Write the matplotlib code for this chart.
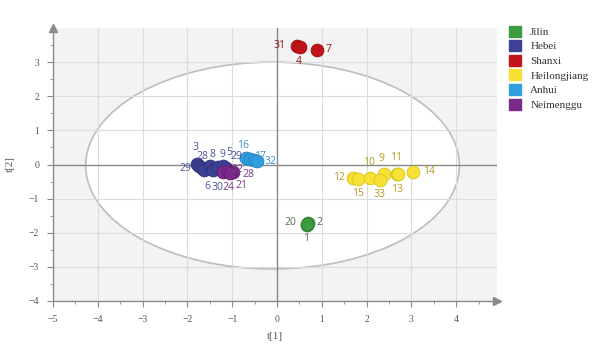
import matplotlib
matplotlib.use("Agg")
import matplotlib.pyplot as plt
from matplotlib.patches import Ellipse, Patch
from matplotlib.ticker import MultipleLocator

groups = ['Jilin', 'Hebei', 'Shanxi', 'Heilongjiang', 'Anhui', 'Neimenggu']
colors = ['#3c9b3e', '#3d4196', '#c0141a', '#f7e135', '#2f9fe0', '#7b2a8c']
edge_colors = ['#2f7d31', '#2e3278', '#9a0f14', '#d9c11c', '#2382c0', '#5f1f6d']
text_colors = ['#5a6f5a', '#4a52a0', '#8b1a1a', '#b59a22', '#3a8ed0', '#7a3a8a']

# scores per province: t[1], t[2], sample label
jilin_t1 = [0.66, 0.70, 0.68]
jilin_t2 = [-1.76, -1.72, -1.74]
jilin_lab = ['1', '2', '20']

hebei_t1 = [-1.79, -1.74, -1.67, -1.63, -1.50, -1.43, -1.32, -1.21, -1.14]
hebei_t2 = [0.01, -0.05, -0.10, -0.15, -0.05, -0.15, -0.08, -0.05, -0.10]
hebei_lab = ['3', '28', '29', '6', '8', '9', '30', '29', '5']

shanxi_t1 = [0.44, 0.51, 0.89]
shanxi_t2 = [3.46, 3.43, 3.35]
shanxi_lab = ['31', '4', '7']

hlj_t1 = [1.70, 1.81, 2.07, 2.38, 2.30, 2.68, 2.70, 3.03]
hlj_t2 = [-0.41, -0.42, -0.39, -0.27, -0.45, -0.27, -0.29, -0.23]
hlj_lab = ['12', '15', '10', '9', '33', '11', '13', '14']

anhui_t1 = [-0.70, -0.60, -0.51, -0.45]
anhui_t2 = [0.19, 0.17, 0.14, 0.11]
anhui_lab = ['16', '', '17', '32']

nmg_t1 = [-1.21, -1.09, -0.98, -1.05]
nmg_t2 = [-0.23, -0.20, -0.22, -0.25]
nmg_lab = ['24', '22', '28', '21']

# label offsets in pixels (layout only)
label_offsets = {
    'Jilin': [(-1, -14), (11, 1), (-17, 1)],
    'Hebei': [(-1, 17), (3, 10), (-17, -1), (3, -17), (3, 12), (9, 15), (0, -20), (14, 10), (3, 15)],
    'Shanxi': [(-17, 1), (-1, -14), (12, 1)],
    'Heilongjiang': [(-14, 1), (0, -15), (-1, 15), (-2, 15), (-1, -15), (-1, 16), (-1, -15), (16, 1)],
    'Anhui': [(-3, 13), (0, 0), (6, 3), (14, -1)],
    'Neimenggu': [(6, -15), (9, 2), (15, -2), (11, -12)],
}

series = {
    'Jilin': (jilin_t1, jilin_t2, jilin_lab),
    'Hebei': (hebei_t1, hebei_t2, hebei_lab),
    'Shanxi': (shanxi_t1, shanxi_t2, shanxi_lab),
    'Heilongjiang': (hlj_t1, hlj_t2, hlj_lab),
    'Anhui': (anhui_t1, anhui_t2, anhui_lab),
    'Neimenggu': (nmg_t1, nmg_t2, nmg_lab),
}

fig = plt.figure(figsize=(6, 3.6), dpi=100)
ax = fig.add_axes([53 / 600, 59 / 360, 444 / 600, 273 / 360])
ax.set_xlim(-5, 4.91)
ax.set_ylim(-4, 4.0)
ax.set_facecolor('#f3f3f3')
ax.set_axisbelow(True)
ax.grid(True, color='#dcdcdc', lw=0.8)

# Hotelling T2 ellipse
ax.add_patch(Ellipse((-0.1, -0.03), 2 * 4.17, 2 * 3.03, facecolor='white',
                     edgecolor='#bdbdbd', lw=1.2, zorder=0.3))
ax.axhline(0, color='#8a8a8a', lw=1, zorder=0.8)
ax.axvline(0, color='#8a8a8a', lw=1, zorder=0.8)

draw_order = ['Jilin', 'Shanxi', 'Heilongjiang', 'Hebei', 'Anhui', 'Neimenggu']
for g in draw_order:
    i = groups.index(g)
    xs, ys, labs = series[g]
    ax.scatter(xs, ys, s=85, color=colors[i], edgecolors=edge_colors[i],
               linewidths=0.6, zorder=3)
    for x, y, lab, off in zip(xs, ys, labs, label_offsets[g]):
        if lab:
            ax.annotate(lab, (x, y), xytext=off, textcoords='offset pixels',
                        ha='center', va='center', fontsize=7.5,
                        family='Open Sans', color=text_colors[i], zorder=4)

for s in ['top', 'right']:
    ax.spines[s].set_visible(False)
for s in ['left', 'bottom']:
    ax.spines[s].set_color('#8a8a8a')
    ax.spines[s].set_linewidth(1)
ax.plot(1, 0, '>', color='#8a8a8a', ms=6, transform=ax.transAxes, clip_on=False)
ax.plot(0, 1, '^', color='#8a8a8a', ms=6, transform=ax.transAxes, clip_on=False)

ax.xaxis.set_major_locator(MultipleLocator(1))
ax.yaxis.set_major_locator(MultipleLocator(1))
ax.xaxis.set_minor_locator(MultipleLocator(0.5))
ax.yaxis.set_minor_locator(MultipleLocator(0.5))
ax.set_xticks(range(-5, 5))
ax.set_yticks(range(-4, 4))
ax.tick_params(which='major', direction='out', length=4, color='#8a8a8a',
               labelsize=7, labelcolor='#555555', pad=6)
ax.tick_params(which='minor', direction='out', length=2.5, color='#8a8a8a')
for lbl in ax.get_xticklabels() + ax.get_yticklabels():
    lbl.set_family('Liberation Serif')

ax.set_xlabel('t[1]', family='Liberation Serif', fontsize=8, color='#555555', labelpad=6)
ax.set_ylabel('t[2]', family='Liberation Serif', fontsize=8, color='#555555', labelpad=10)

handles = [Patch(facecolor=c, edgecolor=c) for c in colors]
leg = ax.legend(handles, groups, loc='upper left', bbox_to_anchor=(503 / 600, 1 - 20 / 360),
                bbox_transform=fig.transFigure, frameon=False, handlelength=1.15,
                handleheight=1.15, handletextpad=0.8, labelspacing=0.3, borderpad=0,
                prop={'family': 'Liberation Serif', 'size': 8})
for t in leg.get_texts():
    t.set_color('#333333')

fig.savefig('out.png', dpi=100)
